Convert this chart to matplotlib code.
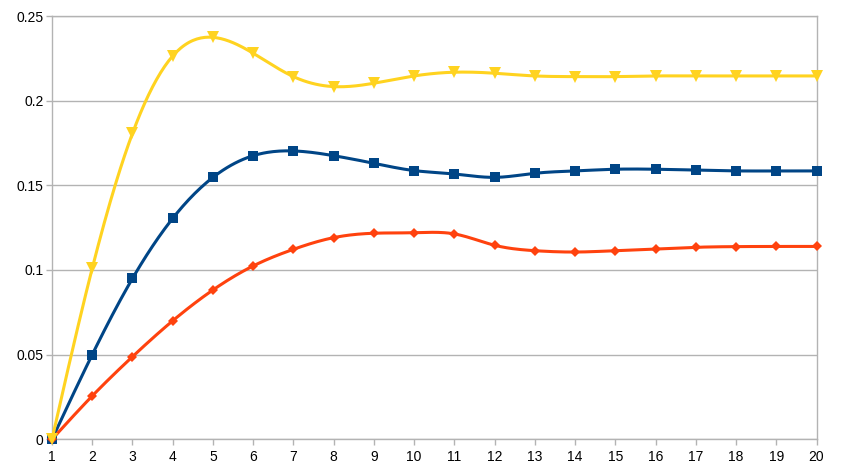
import numpy as np
import matplotlib
matplotlib.use("Agg")
import matplotlib.pyplot as plt

x = np.arange(1, 21)

blue = [0, 0.050, 0.095, 0.1305, 0.1547, 0.1675, 0.1703, 0.1675, 0.163, 0.1587,
        0.1567, 0.1547, 0.1571, 0.1585, 0.1595, 0.1595, 0.159, 0.1585, 0.1585, 0.1585]
red = [0, 0.0256, 0.0488, 0.070, 0.0882, 0.1024, 0.1122, 0.1191, 0.1217, 0.122,
       0.1213, 0.1146, 0.1114, 0.1106, 0.1114, 0.1124, 0.1134, 0.1138, 0.1139, 0.1139]
yellow = [0, 0.101, 0.1807, 0.2264, 0.2374, 0.228, 0.2142, 0.2083, 0.2103, 0.2146,
          0.2168, 0.2162, 0.2146, 0.2142, 0.2142, 0.2146, 0.2146, 0.2146, 0.2146, 0.2146]

BLUE = "#004586"
RED = "#ff420e"
YELLOW = "#ffd320"
GRID = "#b3b3b3"


def natural_spline(xs, ys, n=20):
    # plain natural cubic spline, solved as a dense system (only 20 points)
    xs = np.asarray(xs, float)
    ys = np.asarray(ys, float)
    k = len(xs)
    h = np.diff(xs)
    A = np.zeros((k, k))
    b = np.zeros(k)
    A[0, 0] = A[-1, -1] = 1
    for i in range(1, k - 1):
        A[i, i - 1] = h[i - 1]
        A[i, i] = 2 * (h[i - 1] + h[i])
        A[i, i + 1] = h[i]
        b[i] = 3 * ((ys[i + 1] - ys[i]) / h[i] - (ys[i] - ys[i - 1]) / h[i - 1])
    c = np.linalg.solve(A, b)
    xo, yo = [], []
    for i in range(k - 1):
        t = np.linspace(0, h[i], n, endpoint=(i == k - 2))
        bi = (ys[i + 1] - ys[i]) / h[i] - h[i] * (2 * c[i] + c[i + 1]) / 3
        di = (c[i + 1] - c[i]) / (3 * h[i])
        xo.extend(xs[i] + t)
        yo.extend(ys[i] + bi * t + c[i] * t ** 2 + di * t ** 3)
    return np.array(xo), np.array(yo)


plt.rcParams['font.family'] = ['Liberation Sans', 'DejaVu Sans']

fig = plt.figure(figsize=(8.41, 4.73), dpi=100)
ax = fig.add_axes([52 / 841, 1 - 439.3 / 473, (816.5 - 52) / 841, (439.3 - 16) / 473])

series = [(blue, BLUE, 's', 7.5), (red, RED, 'D', 5.5), (yellow, YELLOW, 'v', 9)]
for ys, col, mk, ms in series:
    sx, sy = natural_spline(x, ys)
    ax.plot(sx, sy, color=col, lw=2.2, solid_capstyle='round', zorder=3)
    ax.plot(x, ys, linestyle='none', marker=mk, markersize=ms, color=col,
            markeredgewidth=0, zorder=4, clip_on=False)

ax.set_xlim(1, 20)
ax.set_ylim(0, 0.25)
ax.set_xticks(x)
ax.set_yticks([0, 0.05, 0.1, 0.15, 0.2, 0.25])
ax.set_yticklabels(['0', '0.05', '0.1', '0.15', '0.2', '0.25'])
ax.grid(axis='y', color=GRID, lw=1)
ax.set_axisbelow(True)
for s in ax.spines.values():
    s.set_color(GRID)
    s.set_linewidth(1)
ax.tick_params(axis='both', direction='out', length=4, color=GRID, width=1,
               labelsize=10, labelcolor='black')
ax.tick_params(axis='x', pad=4)
ax.tick_params(axis='y', pad=2)

fig.savefig("out.png", dpi=100)
